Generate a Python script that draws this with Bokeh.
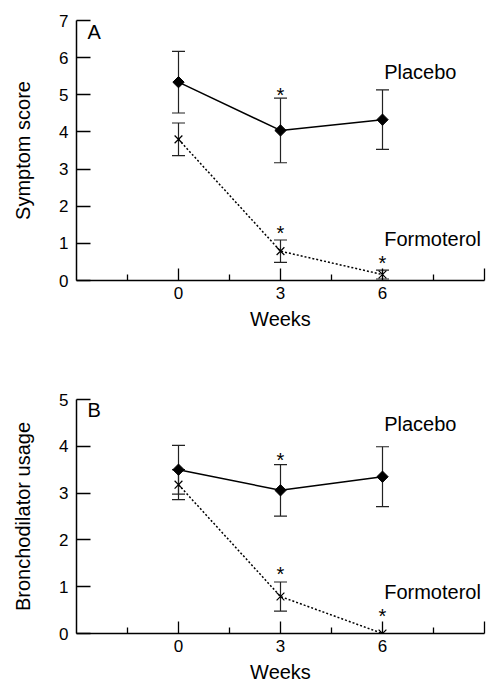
import math
from bokeh.plotting import figure
from bokeh.layouts import column
from bokeh.models import Range1d, FixedTicker, Label, Whisker, TeeHead, ColumnDataSource
from bokeh.embed import file_html
from bokeh.resources import INLINE
from bokeh.core.properties import value

# ---- data ----
weeks = [0, 3, 6]
x_major_ticks = [0, 3, 6, 9]
x_minor_ticks = [-1.5, 1.5, 4.5, 7.5]

a_y_ticks = [0, 1, 2, 3, 4, 5, 6, 7]
a_placebo = [5.34, 4.04, 4.33]
a_placebo_err = [0.83, 0.87, 0.80]
a_formoterol = [3.80, 0.79, 0.16]
a_formoterol_err = [0.44, 0.30, 0.12]
a_sig_x = [3, 3, 6]
a_sig_y = [5.07, 1.35, 0.56]

b_y_ticks = [0, 1, 2, 3, 4, 5]
b_placebo = [3.50, 3.06, 3.35]
b_placebo_err = [0.52, 0.55, 0.64]
b_formoterol = [3.18, 0.79, 0.00]
b_formoterol_err = [0.32, 0.31, 0.00]
b_sig_x = [3, 3, 6]
b_sig_y = [3.78, 1.33, 0.43]

FONT = "Liberation Sans"


def panel(letter, ylabel, ymax, yticks, plac, plac_err, form, form_err, sig_x, sig_y,
          letter_y, plac_lab_y, form_lab_y, frame_h, top, bottom):
    p = figure(frame_width=408, frame_height=frame_h,
               min_border_left=76, min_border_right=3,
               min_border_top=top, min_border_bottom=bottom,
               x_range=Range1d(-3, 9), y_range=Range1d(0, ymax),
               output_backend="svg", toolbar_location=None)
    p.outline_line_color = None
    p.grid.visible = False
    p.background_fill_color = "white"
    p.border_fill_color = "white"

    xa = p.xaxis[0]
    xa.ticker = FixedTicker(ticks=x_major_ticks, minor_ticks=x_minor_ticks)
    xa.major_label_overrides = {9: ""}
    xa.major_tick_in = 12
    xa.major_tick_out = 0
    xa.minor_tick_in = 6
    xa.minor_tick_out = 0
    xa.axis_label = "Weeks"
    xa.major_label_standoff = 6
    xa.axis_label_standoff = 6

    ya = p.yaxis[0]
    ya.ticker = FixedTicker(ticks=yticks)
    ya.major_tick_in = 14
    ya.major_tick_out = 0
    ya.axis_label = ylabel
    ya.major_label_standoff = 8
    ya.axis_label_standoff = 22

    for ax in (xa, ya):
        ax.axis_line_color = "black"
        ax.axis_line_width = 1.5
        ax.major_tick_line_color = "black"
        ax.major_tick_line_width = 1.3
        ax.minor_tick_line_width = 1.3
        ax.major_label_text_font = FONT
        ax.major_label_text_font_size = "17px"
        ax.major_label_text_color = "black"
        ax.axis_label_text_font = FONT
        ax.axis_label_text_font_size = "20px"
        ax.axis_label_text_font_style = "normal"
        ax.axis_label_text_color = "black"
    xa.minor_tick_line_color = "black"
    ya.minor_tick_line_color = None

    src_p = ColumnDataSource(dict(x=weeks, y=plac,
                                  up=[v + e for v, e in zip(plac, plac_err)],
                                  lo=[v - e for v, e in zip(plac, plac_err)]))
    src_f = ColumnDataSource(dict(x=weeks, y=form,
                                  up=[v + e for v, e in zip(form, form_err)],
                                  lo=[v - e for v, e in zip(form, form_err)]))

    for src in (src_f, src_p):
        w = Whisker(source=src, base="x", upper="up", lower="lo",
                    line_color="#222222", line_width=1.2,
                    upper_head=TeeHead(size=13, line_color="#222222", line_width=1.2),
                    lower_head=TeeHead(size=13, line_color="#222222", line_width=1.2))
        p.add_layout(w)

    p.line("x", "y", source=src_f, line_color="black", line_width=1.5, line_dash="2 2")
    p.scatter("x", "y", source=src_f, marker="x", size=11, line_color="black", line_width=1.2)
    p.line("x", "y", source=src_p, line_color="black", line_width=1.5)
    p.scatter("x", "y", source=src_p, marker="square", angle=math.pi / 4, size=8,
              fill_color="black", line_color="black")

    p.text(x=sig_x, y=sig_y, text=["*"] * len(sig_x), text_font=value(FONT),
           text_font_size="20px", text_align="center", text_baseline="middle",
           y_offset=3, text_color="black")

    p.add_layout(Label(x=-2.68, y=letter_y, text=letter, text_font=FONT,
                       text_font_size="20px", text_color="black"))
    p.add_layout(Label(x=6.05, y=plac_lab_y, text="Placebo", text_font=FONT,
                       text_font_size="20px", text_color="black"))
    p.add_layout(Label(x=6.05, y=form_lab_y, text="Formoterol", text_font=FONT,
                       text_font_size="20px", text_color="black"))
    return p


pa = panel("A", "Symptom score", 7, a_y_ticks, a_placebo, a_placebo_err,
           a_formoterol, a_formoterol_err, a_sig_x, a_sig_y,
           6.39, 5.31, 0.83, 260, 20, 52)
pb = panel("B", "Bronchodilator usage", 5, b_y_ticks, b_placebo, b_placebo_err,
           b_formoterol, b_formoterol_err, b_sig_x, b_sig_y,
           4.55, 4.25, 0.65, 234, 67, 50)

layout = column(pa, pb, spacing=0)
open("out.html", "w").write(file_html(layout, INLINE))
